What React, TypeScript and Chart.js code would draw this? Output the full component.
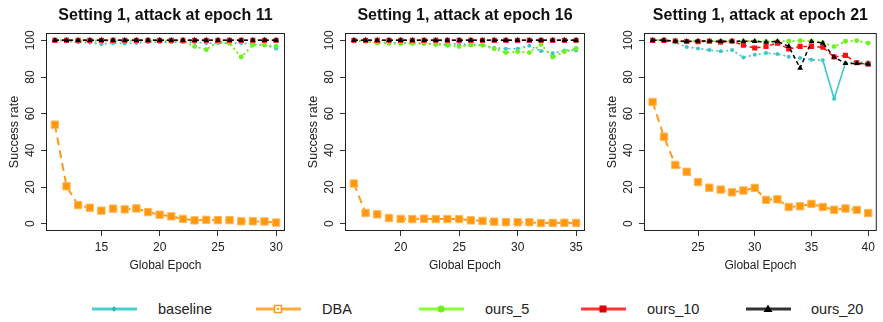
import React, { useEffect, useRef } from "react";
import { Chart, registerables } from "chart.js";

Chart.register(...registerables);

// ---------- data ----------
const seriesNames = ["baseline", "DBA", "ours_5", "ours_10", "ours_20"];
const yTicks = [0, 20, 40, 60, 80, 100];

const titles = [
  "Setting 1, attack at epoch 11",
  "Setting 1, attack at epoch 16",
  "Setting 1, attack at epoch 21",
];

const epochs1 = [11, 12, 13, 14, 15, 16, 17, 18, 19, 20, 21, 22, 23, 24, 25, 26, 27, 28, 29, 30];
const xTicks1 = [15, 20, 25, 30];
const baseline1 = [100, 99.5, 99, 98.8, 98, 98.5, 98.3, 98.5, 99, 99, 99, 99, 99, 98.5, 98.5, 98.5, 98.5, 98, 97.5, 95.5];
const dba1 = [54, 20.4, 10.1, 8.7, 7.1, 8.2, 7.8, 8.3, 6.3, 4.9, 4.0, 2.6, 1.8, 2.1, 1.9, 1.9, 1.3, 1.3, 1.2, 0.6];
const ours5_1 = [100, 100, 99.8, 99.8, 99.8, 99.8, 99.8, 99.8, 99.8, 99.8, 99.5, 99.5, 96.7, 94.9, 99.2, 98.4, 90.9, 97.4, 97.4, 96.7];
const ours10_1 = [100, 100, 100, 100, 100, 100, 100, 100, 100, 100, 100, 100, 100, 100, 100, 100, 100, 100, 100, 100];
const ours20_1 = [100, 100, 100, 100, 100, 100, 100, 100, 100, 100, 100, 100, 100, 100, 100, 100, 100, 100, 100, 100];

const epochs2 = [16, 17, 18, 19, 20, 21, 22, 23, 24, 25, 26, 27, 28, 29, 30, 31, 32, 33, 34, 35];
const xTicks2 = [20, 25, 30, 35];
const baseline2 = [100, 99.5, 99, 98.8, 98.5, 98.7, 98.2, 98, 98, 98, 97.8, 97.5, 96, 95.4, 95.4, 97, 94.2, 93, 94.5, 94.5];
const dba2 = [21.9, 5.8, 5.1, 3.1, 2.6, 2.5, 2.7, 2.5, 2.5, 2.5, 1.8, 1.5, 1.1, 0.8, 0.8, 0.8, 0.3, 0.4, 0.5, 0.4];
const ours5_2 = [100, 99.3, 98.6, 98.3, 98.2, 98.3, 98.3, 97.7, 97.2, 96.6, 97.4, 97.3, 95.4, 93.3, 93.8, 93.3, 97.7, 90.8, 93.8, 95.6];
const ours10_2 = [100, 100, 100, 100, 100, 100, 100, 100, 100, 100, 100, 100, 100, 100, 100, 100, 100, 100, 100, 100];
const ours20_2 = [100, 100, 100, 100, 100, 100, 100, 100, 100, 100, 100, 100, 100, 100, 100, 100, 100, 100, 100, 100];

const epochs3 = [21, 22, 23, 24, 25, 26, 27, 28, 29, 30, 31, 32, 33, 34, 35, 36, 37, 38, 39, 40];
const xTicks3 = [25, 30, 35, 40];
const baseline3 = [100, 100, 98.9, 96.3, 95.6, 94.7, 94, 94.7, 90.7, 92.1, 93.1, 92.6, 91.1, 90.3, 89.4, 89.1, 68.1, 87.7, 88, 88];
const dba3 = [66.4, 47.4, 32, 28.3, 22.7, 19.6, 18.6, 17.1, 18.1, 19.5, 13, 13.3, 9.1, 9.5, 10.8, 9.1, 7.6, 8.3, 7.5, 5.8];
const ours5_3 = [100, 100, 99.5, 99.3, 99.5, 99.5, 99.5, 99.5, 99.6, 99.6, 99.3, 99.5, 99.5, 99.8, 99.6, 98.8, 96.6, 99.5, 99.8, 98.5];
const ours10_3 = [100, 100, 99.6, 99.4, 99.3, 99.5, 99, 99.5, 97.4, 95.8, 96.7, 98.5, 95.3, 96.7, 96.7, 96.2, 90.9, 91.8, 87.8, 87];
const ours20_3 = [100, 100, 99.6, 99.5, 99.6, 99.6, 99.5, 99.6, 99.5, 99.5, 99, 99.4, 96.7, 84.9, 99.3, 98.5, 90.9, 87.4, 87.4, 87];

const panels = [
  { title: titles[0], epochs: epochs1, xTicks: xTicks1, series: [baseline1, dba1, ours5_1, ours10_1, ours20_1] },
  { title: titles[1], epochs: epochs2, xTicks: xTicks2, series: [baseline2, dba2, ours5_2, ours10_2, ours20_2] },
  { title: titles[2], epochs: epochs3, xTicks: xTicks3, series: [baseline3, dba3, ours5_3, ours10_3, ours20_3] },
];

// ---------- styles ----------
const FONT = '"Liberation Sans", Arial, Helvetica, sans-serif';
const styles = [
  { color: "#3cc6c6", bg: "#3cc6c6", dash: [2, 3], width: 1.6, point: "circle", radius: 2, pbw: 0 },
  { color: "#ff9a1a", bg: "#ff9810", dash: [8, 5], width: 2, point: "rect", radius: 5.2, pbw: 1, pborder: "#ffb95a" },
  { color: "#6ef01a", bg: "#6ef01a", dash: [2, 3], width: 2, point: "circle", radius: 2.4, pbw: 0 },
  { color: "#ff1010", bg: "#ff1010", dash: [4, 3], width: 1.5, point: "rect", radius: 3.6, pbw: 0 },
  { color: "#000000", bg: "#000000", dash: [4, 3], width: 1.5, point: "triangle", radius: 3.3, pbw: 0 },
];

const layoutPanels = [
  { left: 0, width: 295, right: 10 },
  { left: 299, width: 296, right: 10 },
  { left: 598, width: 285, right: 1 },
];

const decor = {
  id: "decor",
  afterDraw(chart: any, _args: any, opts: any) {
    const { ctx, chartArea } = chart;
    const { left, top, right, bottom } = chartArea;
    ctx.save();
    ctx.strokeStyle = "#222";
    ctx.lineWidth = 1;
    ctx.strokeRect(left + 0.5, top + 0.5, right - left - 1, bottom - top - 1);
    ctx.fillStyle = "#111";
    ctx.font = `bold 16px ${FONT}`;
    ctx.textAlign = "center";
    ctx.textBaseline = "middle";
    ctx.fillText(opts.title, (left + right) / 2, 16);
    ctx.fillStyle = "#222";
    ctx.font = `12px ${FONT}`;
    const ys = chart.scales.y;
    for (const t of ys.ticks) {
      const y = ys.getPixelForValue(t.value);
      ctx.save();
      ctx.translate(left - 15, y);
      ctx.rotate(-Math.PI / 2);
      ctx.fillText(String(t.value), 0, 0);
      ctx.restore();
    }
    ctx.font = `12.5px ${FONT}`;
    ctx.save();
    ctx.translate(left - 31, (top + bottom) / 2);
    ctx.rotate(-Math.PI / 2);
    ctx.fillText("Success rate", 0, 0);
    ctx.restore();
    ctx.font = `12px ${FONT}`;
    ctx.fillText("Global Epoch", (left + right) / 2, 266);
    ctx.restore();
  },
};

function Panel({ idx }: { idx: number }) {
  const ref = useRef<HTMLCanvasElement | null>(null);
  const p = panels[idx];
  const lp = layoutPanels[idx];
  useEffect(() => {
    if (!ref.current) return;
    const xmin = p.epochs[0];
    const xmax = p.epochs[p.epochs.length - 1];
    const pad = (xmax - xmin) * 0.04;
    const datasets = p.series
      .map((vals, si) => {
        const s = styles[si];
        return {
          label: seriesNames[si],
          data: vals.map((v, i) => ({ x: p.epochs[i], y: v })),
          borderColor: s.color,
          backgroundColor: s.bg,
          borderWidth: s.width,
          borderDash: s.dash,
          pointStyle: s.point,
          pointRadius: s.radius,
          pointBorderWidth: s.pbw,
          pointBorderColor: s.pborder || s.bg,
          pointBackgroundColor: s.bg,
          tension: 0,
          fill: false,
          segment:
            si === 0
              ? { borderDash: (c: any) => (Math.abs(c.p1.parsed.y - c.p0.parsed.y) > 10 ? [] : undefined) }
              : undefined,
        };
      })
      .reverse();
    const chart = new Chart(ref.current, {
      type: "line",
      data: { datasets } as any,
      options: {
        animation: false,
        responsive: false,
        devicePixelRatio: 1,
        layout: { padding: { top: 33, right: lp.right, left: 0, bottom: 0 } },
        plugins: { legend: { display: false }, tooltip: { enabled: false }, decor: { title: p.title } } as any,
        scales: {
          x: {
            type: "linear",
            min: xmin - pad,
            max: xmax + pad,
            afterBuildTicks: (scale: any) => {
              scale.ticks = p.xTicks.map((v) => ({ value: v }));
            },
            afterFit: (scale: any) => {
              scale.height = 49;
            },
            grid: { drawOnChartArea: false, drawTicks: true, tickLength: 5, color: "#333" },
            border: { display: false },
            ticks: { color: "#222", font: { family: FONT, size: 12 }, padding: 4, maxRotation: 0, autoSkip: false },
          },
          y: {
            type: "linear",
            min: -4,
            max: 104,
            afterBuildTicks: (scale: any) => {
              scale.ticks = yTicks.map((v) => ({ value: v }));
            },
            afterFit: (scale: any) => {
              scale.width = 46;
            },
            grid: { drawOnChartArea: false, drawTicks: true, tickLength: 5, color: "#333" },
            border: { display: false },
            ticks: { display: false },
          },
        },
      } as any,
      plugins: [decor],
    });
    return () => chart.destroy();
  }, []);
  return (
    <canvas
      ref={ref}
      width={lp.width}
      height={280}
      style={{ position: "absolute", left: lp.left, top: 0, width: lp.width, height: 280 }}
    />
  );
}

const legendPos = [
  { line: 92, text: 158 },
  { line: 256, text: 322 },
  { line: 419, text: 485 },
  { line: 581, text: 647 },
  { line: 746, text: 811 },
];
const legendColors = ["#4ccfcf", "#ffaa40", "#88ff33", "#ff3535", "#333333"];

function Marker({ i }: { i: number }) {
  if (i === 0) return <polygon points="22,3 24,6 22,9 20,6" fill="#2aaeae" />;
  if (i === 1)
    return (
      <g>
        <rect x={18.5} y={2.5} width={7} height={7} fill="#fff" stroke="#ff9a1a" strokeWidth={1.5} />
        <rect x={21} y={5} width={2} height={2} fill="#ff9a1a" />
      </g>
    );
  if (i === 2) return <circle cx={22} cy={6} r={3.5} fill="#6ef01a" />;
  if (i === 3) return <rect x={18.5} y={2.5} width={7} height={7} fill="#e00000" />;
  return <polygon points="22,1.5 26.5,9 17.5,9" fill="#000" />;
}

function Legend() {
  return (
    <>
      {seriesNames.map((n, i) => (
        <React.Fragment key={n}>
          <svg
            width={45}
            height={12}
            style={{ position: "absolute", left: legendPos[i].line, top: 303 }}
          >
            <line x1={0} y1={6} x2={45} y2={6} stroke={legendColors[i]} strokeWidth={3} />
            <Marker i={i} />
          </svg>
          <span
            style={{
              position: "absolute",
              left: legendPos[i].text,
              top: 300,
              font: `14.5px ${FONT}`,
              color: "#222",
              lineHeight: "18px",
              whiteSpace: "nowrap",
            }}
          >
            {n}
          </span>
        </React.Fragment>
      ))}
    </>
  );
}

export default function App() {
  useEffect(() => {
    document.body.style.margin = "0";
    document.body.style.background = "#fff";
  }, []);
  return (
    <div style={{ position: "relative", width: 883, height: 322, background: "#fff", overflow: "hidden" }}>
      <Panel idx={0} />
      <Panel idx={1} />
      <Panel idx={2} />
      <Legend />
    </div>
  );
}
